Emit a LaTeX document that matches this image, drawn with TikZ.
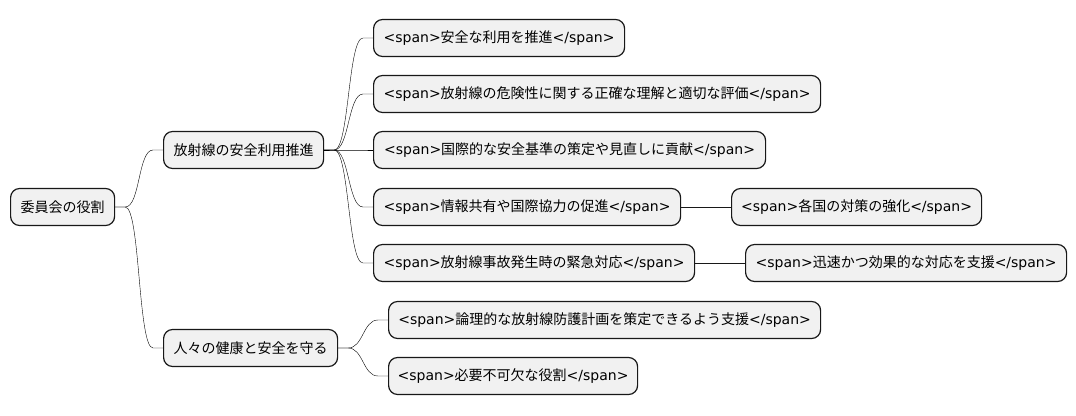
\documentclass[tikz,border=0pt]{standalone}
\usepackage{fontspec}
\setmainfont{DejaVu Sans}
\newfontfamily\jp{Noto Sans CJK JP}
\usetikzlibrary{positioning}

\definecolor{boxfill}{HTML}{F1F1F1}
\definecolor{boxline}{HTML}{181818}
\newcommand{\spn}[1]{<span>{\jp #1}</span>}

\begin{document}
\begin{tikzpicture}[x=1pt,y=1pt,
    topic/.style={draw=boxline, fill=boxfill, line width=1.2pt, rounded corners=9pt,
                  anchor=west, minimum height=37pt, inner xsep=0pt,
                  font=\fontsize{14}{16}\selectfont},
    branch/.style={draw=boxline, line width=0.9pt,
                   to path={-- ++(10pt,0) .. controls +(15pt,0) and +(-15pt,0)
                            .. ([xshift=-10pt]\tikztotarget) -- (\tikztotarget) \tikztonodes}},
    link/.style={draw=boxline, line width=0.9pt}]
	\useasboundingbox (0,0) rectangle (1076,-415);

	% topics
	\node[topic, minimum width=104pt] (root) at (10,-207) {\jp 委員会の役割};
	\node[topic, minimum width=160pt] (promote) at (163,-150) {\jp 放射線の安全利用推進};
	\node[topic, minimum width=174pt] (protect) at (163,-348) {\jp 人々の健康と安全を守る};

	\node[topic, minimum width=251pt] (safeuse) at (373,-38) {\spn{安全な利用を推進}};
	\node[topic, minimum width=447pt] (risk) at (373,-94) {\spn{放射線の危険性に関する正確な理解と適切な評価}};
	\node[topic, minimum width=392pt] (standard) at (373,-150) {\spn{国際的な安全基準の策定や見直しに貢献}};
	\node[topic, minimum width=307pt] (share) at (373,-207) {\spn{情報共有や国際協力の促進}};
	\node[topic, minimum width=250pt] (nations) at (731,-207) {\spn{各国の対策の強化}};
	\node[topic, minimum width=321pt] (accident) at (373,-263) {\spn{放射線事故発生時の緊急対応}};
	\node[topic, minimum width=321pt] (rapid) at (745,-263) {\spn{迅速かつ効果的な対応を支援}};

	\node[topic, minimum width=432pt] (plan) at (388,-320) {\spn{論理的な放射線防護計画を策定できるよう支援}};
	\node[topic, minimum width=249pt] (vital) at (388,-376) {\spn{必要不可欠な役割}};

	% branches
	\draw (root.east) to[branch] (promote.west);
	\draw (root.east) to[branch] (protect.west);
	\foreach \c in {safeuse, risk, standard, share, accident}
		\draw (promote.east) to[branch] (\c.west);
	\foreach \c in {plan, vital}
		\draw (protect.east) to[branch] (\c.west);
	\draw[link] (share) -- (nations);
	\draw[link] (accident) -- (rapid);
\end{tikzpicture}
\end{document}
